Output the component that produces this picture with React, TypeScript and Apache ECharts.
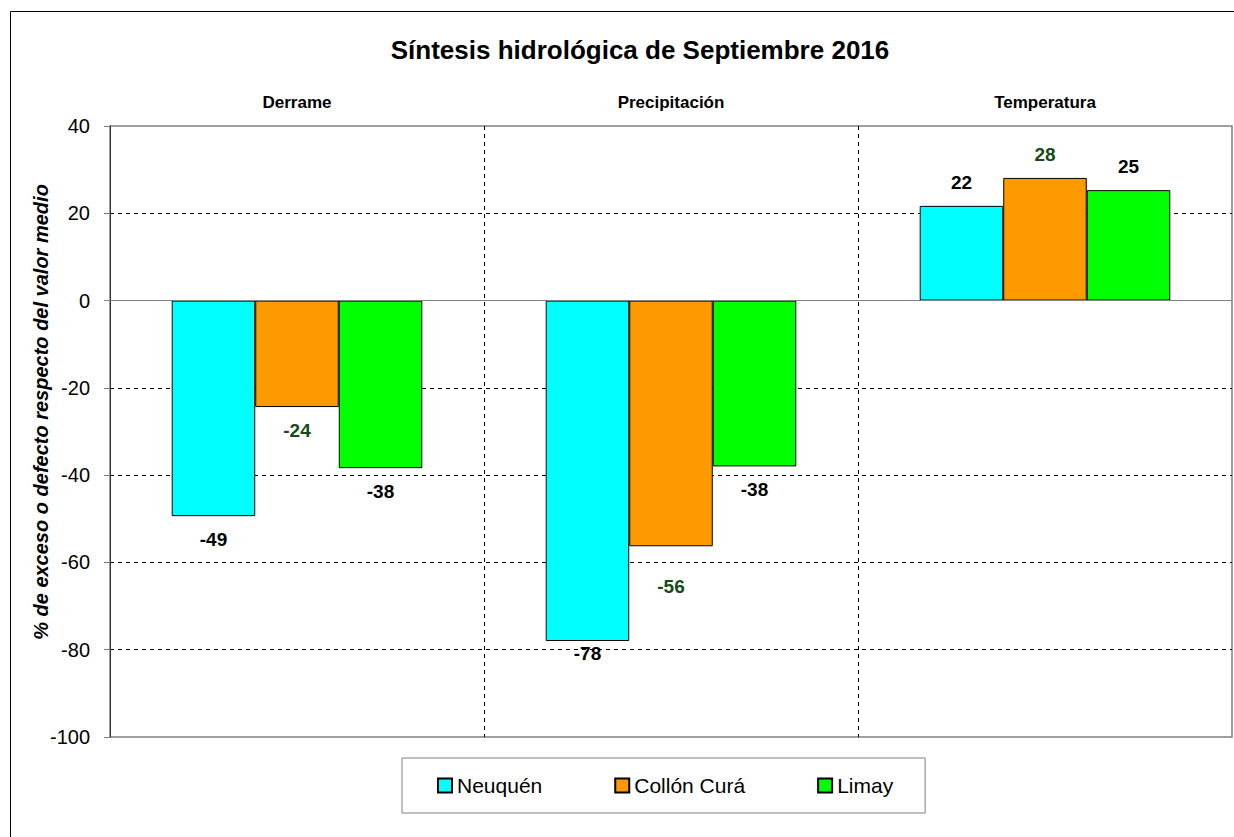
import React, { useEffect, useRef } from "react";
import * as echarts from "echarts";

const categories = ["Derrame", "Precipitación", "Temperatura"];
const seriesNames = ["Neuquén", "Collón Curá", "Limay"];
const neuquen = [-49.4, -78.0, 21.7];
const collonCura = [-24.4, -56.3, 28.1];
const limay = [-38.4, -38.0, 25.3];
const yTicks = { min: -100, max: 40, step: 20 };

const FONT = "'Liberation Sans', Arial, sans-serif";
const colors = ["#00FFFF", "#FF9900", "#00FF00"];
const labelColors = ["#000000", "#174A17", "#000000"];

function buildData(values: number[], seriesIdx: number) {
  return values.map((v, i) => {
    let distance = 14;
    if (seriesIdx === 0 && i === 1) distance = 3;
    if (seriesIdx === 1 && i === 1) distance = 31;
    return {
      value: v,
      label: { position: v >= 0 ? "top" : "bottom", distance },
    };
  });
}

export default function App() {
  const ref = useRef<HTMLDivElement>(null);
  useEffect(() => {
    document.body.style.margin = "0";
    const chart = echarts.init(ref.current!, null, { renderer: "svg" });
    const all = [neuquen, collonCura, limay];
    const dashed = { color: "#000", width: 1, type: [4, 4] as any };
    const option: any = {
      animation: false,
      textStyle: { fontFamily: FONT },
      title: {
        text: "Síntesis hidrológica de Septiembre 2016",
        left: 635,
        textAlign: "center",
        top: 32,
        textStyle: { fontFamily: FONT, fontSize: 26, fontWeight: "bold", color: "#000" },
      },
      grid: {
        left: 110,
        top: 126,
        right: 2,
        bottom: 100,
        show: true,
        borderColor: "#808080",
        borderWidth: 1.5,
        backgroundColor: "#fff",
      },
      legend: {
        data: seriesNames,
        left: 402,
        top: 758,
        orient: "horizontal",
        padding: [17, 32, 17, 35],
        itemGap: 72,
        itemWidth: 14,
        itemHeight: 14,
        icon: "rect",
        borderColor: "#808080",
        borderWidth: 1,
        textStyle: { fontFamily: FONT, fontSize: 21, color: "#000" },
      },
      xAxis: {
        type: "category",
        data: categories,
        position: "top",
        axisLine: { show: false, onZero: false },
        axisTick: { show: false },
        axisLabel: { fontFamily: FONT, fontSize: 17, fontWeight: "bold", color: "#000", margin: 15 },
        splitLine: { show: true, interval: 0, showMinLine: false, showMaxLine: false, lineStyle: dashed },
      },
      yAxis: {
        type: "value",
        min: yTicks.min,
        max: yTicks.max,
        interval: yTicks.step,
        axisLine: { show: true, lineStyle: { color: "#333", width: 1 } },
        axisTick: { show: true, length: 6, lineStyle: { color: "#808080" } },
        axisLabel: { fontFamily: FONT, fontSize: 20, color: "#000", margin: 20 },
        splitLine: { show: true, showMinLine: false, showMaxLine: false, lineStyle: dashed },
      },
      graphic: [
        {
          type: "polyline",
          shape: { points: [[10.5, 900], [10.5, 11.5], [1300, 11.5]] },
          style: { fill: "none", stroke: "#000", lineWidth: 1 },
          silent: true,
          z: -10,
        },
        {
          type: "text",
          x: 41,
          y: 412,
          rotation: Math.PI / 2,
          style: {
            text: "% de exceso o defecto respecto del valor medio",
            fontFamily: FONT,
            fontSize: 20,
            fontWeight: "bold",
            fontStyle: "italic",
            fill: "#000",
            align: "center",
            verticalAlign: "middle",
          },
        },
      ],
      series: all.map((vals, si) => ({
        name: seriesNames[si],
        type: "bar",
        data: buildData(vals, si),
        barGap: "0%",
        barCategoryGap: "33%",
        itemStyle: { color: colors[si], borderColor: "#000", borderWidth: 1 },
        label: {
          show: true,
          fontFamily: FONT,
          fontSize: 19,
          fontWeight: "bold",
          color: labelColors[si],
          formatter: (p: any) => String(Math.round(p.value)),
        },
        markLine:
          si === 0
            ? {
                silent: true,
                symbol: ["none", "none"],
                label: { show: false },
                lineStyle: { color: "#808080", type: "solid", width: 1 },
                data: [{ yAxis: 0 }],
              }
            : undefined,
      })),
    };
    chart.setOption(option);
    return () => chart.dispose();
  }, []);
  return <div ref={ref} style={{ width: 1234, height: 837 }} />;
}
